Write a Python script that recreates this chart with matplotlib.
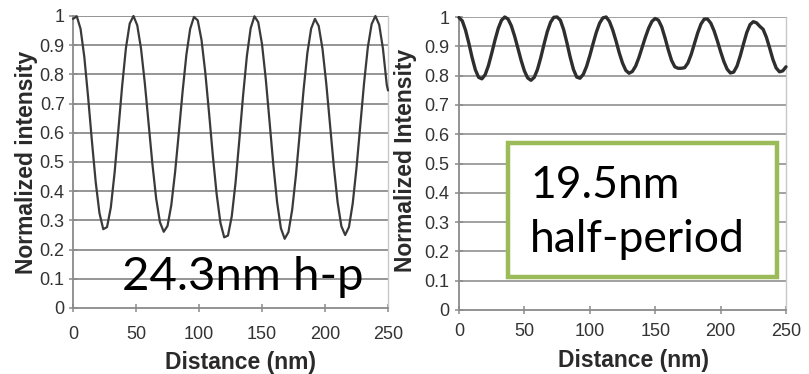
import matplotlib
matplotlib.use("Agg")
import matplotlib.pyplot as plt
from matplotlib.patches import Rectangle
from matplotlib.ticker import FuncFormatter

# ---- data: intensity line profiles (distance in nm) ----
dist_a = [0, 3, 6, 9, 12, 15, 18, 21, 24, 27, 30, 33, 36, 39, 42, 45, 48,
          51, 54, 57, 60, 63, 66, 69, 72, 75, 78, 81, 84, 87, 90, 93, 96,
          99, 102, 105, 108, 111, 114, 117, 120, 123, 126, 129, 132, 135, 138,
          141, 144, 147, 150, 153, 156, 159, 162, 165, 168, 171, 174, 177, 180,
          183, 186, 189, 192, 195, 198, 201, 204, 207, 210, 213, 216, 219, 222,
          225, 228, 231, 234, 237, 240, 243, 246, 249, 250]
inten_a = [0.99, 0.999, 0.956, 0.859, 0.722, 0.572, 0.432, 0.325, 0.270,
           0.277, 0.344, 0.463, 0.610, 0.760, 0.890, 0.974, 1.0,
           0.968, 0.888, 0.770, 0.632, 0.494, 0.375, 0.294, 0.261,
           0.281, 0.352, 0.464, 0.601, 0.742, 0.868, 0.956, 0.997,
           0.985, 0.918, 0.806, 0.667, 0.521, 0.390, 0.292, 0.242,
           0.248, 0.314, 0.429, 0.575, 0.728, 0.863, 0.958, 0.999,
           0.979, 0.904, 0.784, 0.638, 0.490, 0.362, 0.273, 0.237,
           0.260, 0.338, 0.458, 0.601, 0.747, 0.873, 0.957, 0.990,
           0.966, 0.888, 0.769, 0.627, 0.485, 0.362, 0.280, 0.250,
           0.277, 0.358, 0.480, 0.625, 0.770, 0.893, 0.972, 1.0,
           0.970, 0.888, 0.765, 0.745]

dist_b = [0, 2.5, 5, 7.5, 10, 12.5, 15, 17.5, 20, 22.5, 25, 27.5, 30, 32.5,
          35, 37.5, 40, 42.5, 45, 47.5, 50, 52.5, 55, 57.5, 60, 62.5, 65,
          67.5, 70, 72.5, 75, 77.5, 80, 82.5, 85, 87.5, 90, 92.5, 95, 97.5,
          100, 102.5, 105, 107.5, 110, 112.5, 115, 117.5, 120, 122.5, 125,
          127.5, 130, 132.5, 135, 137.5, 140, 142.5, 145, 147.5, 150, 152.5,
          155, 157.5, 160, 162.5, 165, 167.5, 170, 172.5, 175, 177.5, 180,
          182.5, 185, 187.5, 190, 192.5, 195, 197.5, 200, 202.5, 205, 207.5,
          210, 212.5, 215, 217.5, 220, 222.5, 225, 227.5, 230, 232.5, 235,
          237.5, 240, 242.5, 245, 247.5, 250]
inten_b = [0.998, 0.987, 0.955, 0.911, 0.862, 0.820, 0.794, 0.789, 0.803,
           0.834, 0.876, 0.921, 0.961, 0.989, 1.0, 0.993, 0.970, 0.935,
           0.894, 0.852, 0.816, 0.792, 0.784, 0.794, 0.821, 0.861, 0.907,
           0.950, 0.982, 0.999, 1.0, 0.989, 0.957, 0.912, 0.863, 0.821,
           0.795, 0.791, 0.804, 0.831, 0.868, 0.909, 0.948, 0.979, 0.997,
           1.0, 0.985, 0.956, 0.919, 0.878, 0.843, 0.818, 0.808, 0.814,
           0.832, 0.861, 0.896, 0.931, 0.962, 0.985, 0.995, 0.989, 0.966,
           0.929, 0.888, 0.852, 0.830, 0.825, 0.825, 0.827, 0.843, 0.872,
           0.909, 0.946, 0.976, 0.993, 0.993, 0.979, 0.953, 0.919, 0.882,
           0.848, 0.822, 0.809, 0.812, 0.832, 0.867, 0.908, 0.947, 0.974,
           0.984, 0.980, 0.968, 0.958, 0.931, 0.894, 0.855, 0.826, 0.813,
           0.816, 0.830]

x_ticks = [0, 50, 100, 150, 200, 250]
y_ticks = [0, 0.1, 0.2, 0.3, 0.4, 0.5, 0.6, 0.7, 0.8, 0.9, 1.0]
ylabel_a = "Normalized intensity"
ylabel_b = "Normalized Intensity"
xlabel = "Distance (nm)"
note_a = "24.3nm h-p"
note_b_lines = ["19.5nm", "half-period"]

W, H = 809, 374
fig = plt.figure(figsize=(W / 100, H / 100), dpi=100)
fig.patch.set_facecolor("white")

tick_family = ["Liberation Sans Narrow", "Liberation Sans"]
tick_size = 13
label_font = dict(family=["Liberation Sans", "DejaVu Sans"], size=16.5,
                  weight="bold")
note_family = ["Lato", "DejaVu Sans"]


def yfmt(v, _):
    if abs(v - 1) < 1e-9:
        return "1"
    if abs(v) < 1e-9:
        return "0"
    return f"{v:.1f}"


def make_panel(rect, xs, ys, lw, line_color, grid_color):
    ax = fig.add_axes(rect)
    ax.plot(xs, ys, color=line_color, lw=lw, solid_joinstyle="round",
            solid_capstyle="round", zorder=3, clip_on=False)
    ax.set_xlim(0, 250)
    ax.set_ylim(0, 1)
    ax.set_xticks(x_ticks)
    ax.set_yticks(y_ticks)
    ax.yaxis.set_major_formatter(FuncFormatter(yfmt))
    for v in y_ticks[1:]:
        ax.axhline(v, color=grid_color, lw=1.3, zorder=1)
    ax.spines["top"].set_visible(False)
    for side in ("left", "bottom"):
        ax.spines[side].set_color("#8a8a8a")
        ax.spines[side].set_linewidth(1.3)
    ax.spines["right"].set_color("#c8c8c8")
    ax.spines["right"].set_linewidth(1.0)
    ax.tick_params(direction="inout", length=6, width=1.1, color="#8a8a8a",
                   labelcolor="#333333")
    for lab in ax.get_xticklabels() + ax.get_yticklabels():
        lab.set_fontfamily(tick_family)
        lab.set_fontsize(tick_size)
    return ax


ax1 = make_panel([73 / W, 1 - 308 / H, 315 / W, 292 / H], dist_a, inten_a,
                 1.6, "#3a3a3a", "#8c8c8c")
ax1.tick_params(axis="x", pad=10)
ax1.tick_params(axis="y", pad=3)

ax2 = make_panel([459 / W, 1 - 310 / H, 327 / W, 293 / H], dist_b, inten_b,
                 2.4, "#2e2e2e", "#9a9a9a")
ax2.tick_params(axis="x", pad=6)
ax2.tick_params(axis="y", pad=4)

# axis titles
fig.text(241 / W, 1 - 362 / H, xlabel, ha="center", va="center",
         color="#2a2a2a", **label_font)
fig.text(634 / W, 1 - 361 / H, xlabel, ha="center", va="center",
         color="#2a2a2a", **label_font)
fig.text(27 / W, 1 - 162 / H, ylabel_a, ha="center", va="center",
         rotation=90, color="#2a2a2a", **label_font)
fig.text(406 / W, 1 - 160 / H, ylabel_b, ha="center", va="center",
         rotation=90, color="#2a2a2a", **label_font)

# annotation on the left panel
fig.text(122 / W, 1 - 290 / H, note_a, ha="left", va="baseline",
         family=note_family, fontsize=34, color="black", zorder=10)

# framed annotation on the right panel
box = Rectangle((508 / W, 1 - 277 / H), (777 - 508) / W, (277 - 143) / H,
                transform=fig.transFigure, facecolor="white",
                edgecolor="#9bbb59", lw=3.2, zorder=9)
fig.add_artist(box)
fig.text(530 / W, 1 - 198 / H, note_b_lines[0], ha="left", va="baseline",
         family=note_family, fontsize=32, color="black", zorder=10)
fig.text(530 / W, 1 - 252 / H, note_b_lines[1], ha="left", va="baseline",
         family=note_family, fontsize=32, color="black", zorder=10)

fig.savefig("out.png", dpi=100, facecolor="white")
